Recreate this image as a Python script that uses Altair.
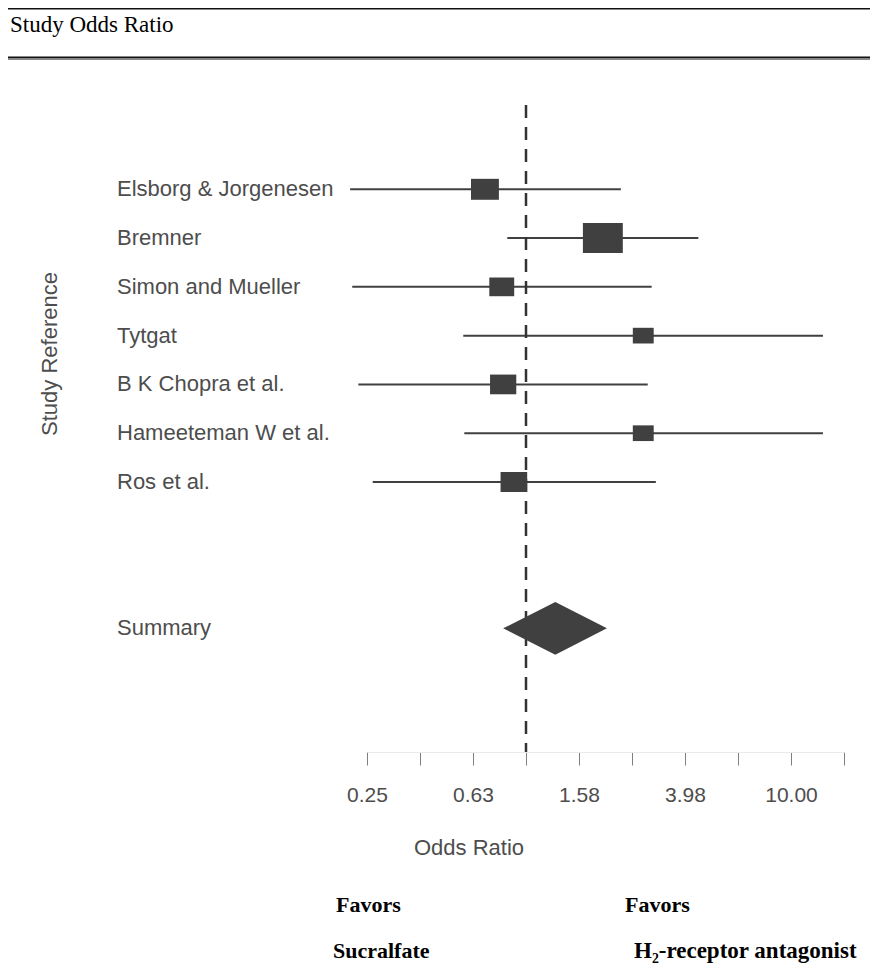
import altair as alt
import pandas as pd

# ---------------- data ----------------
STUDIES = [
    "Elsborg & Jorgenesen",
    "Bremner",
    "Simon and Mueller",
    "Tytgat",
    "B K Chopra et al.",
    "Hameeteman W et al.",
    "Ros et al.",
]
ODDS = [0.70, 1.95, 0.81, 2.77, 0.82, 2.77, 0.90]
LOWER = [0.217, 0.85, 0.221, 0.58, 0.233, 0.585, 0.264]
UPPER = [2.28, 4.47, 2.98, 13.2, 2.88, 13.2, 3.09]
WEIGHT = [14.8, 30.3, 11.8, 8.3, 13.1, 8.3, 13.5]
ROWS = [1, 2, 3, 4, 5, 6, 7]

SUMMARY_LABEL = "Summary"
SUMMARY_ODDS = 1.29
SUMMARY_LOWER = 0.82
SUMMARY_UPPER = 2.02
SUMMARY_ROW = 10

NULL_ODDS = 1.0
TICK_VALUES = [0.2512, 0.3981, 0.6310, 1.0, 1.5849, 2.5119, 3.9811, 6.3096, 10.0, 15.849]
TICK_LABELS = [0.25, 0.63, 1.58, 3.98, 10.0]

HEADER = "Study Odds Ratio"
X_TITLE = "Odds Ratio"
Y_TITLE = "Study Reference"
FAVORS_LEFT = ["Favors", "Sucralfate"]
FAVORS_RIGHT = ["Favors", "H\u2082-receptor antagonist"]

# ---------------- layout / style ----------------
W, H = 477, 647
PAD = {"left": 359, "top": 97, "right": 26, "bottom": 218}
DIAMOND_HALF = 0.54
INK = "#404040"
GREY_TXT = "#4d4d4d"
SANS = "Liberation Sans"
SERIF = "Liberation Serif"

studies = pd.DataFrame(
    {"study": STUDIES, "odds": ODDS, "lower": LOWER, "upper": UPPER,
     "weight": WEIGHT, "row": ROWS}
)
labels = pd.DataFrame({"label": STUDIES + [SUMMARY_LABEL], "row": ROWS + [SUMMARY_ROW]})
diamond = pd.DataFrame(
    {
        "x": [SUMMARY_LOWER, SUMMARY_ODDS, SUMMARY_UPPER],
        "y": [SUMMARY_ROW, SUMMARY_ROW - DIAMOND_HALF, SUMMARY_ROW],
        "y2": [SUMMARY_ROW, SUMMARY_ROW + DIAMOND_HALF, SUMMARY_ROW],
    }
)
one = pd.DataFrame({"a": [0]})

xscale = alt.Scale(type="log", domain=[TICK_VALUES[0], TICK_VALUES[-1]], nice=False)
yscale = alt.Scale(domain=[-0.728, 12.535], reverse=True, nice=False, zero=False)

label_expr = (
    f"indexof({TICK_LABELS}, round(datum.value*100)/100) >= 0 "
    "? format(datum.value, '.2f') : ''"
)
X_AXIS = alt.Axis(
    values=TICK_VALUES, labelExpr=label_expr, title=None, grid=False,
    labelOverlap=False, labelFlush=False,
)

ci = alt.Chart(studies).mark_rule(color=INK, strokeWidth=2).encode(
    x=alt.X("lower:Q", scale=xscale, axis=X_AXIS),
    x2="upper:Q",
    y=alt.Y("row:Q", scale=yscale, axis=None),
)

null_line = alt.Chart(one).mark_rule(
    color="#333333", strokeWidth=2.5, strokeDash=[13, 9]
).encode(x=alt.datum(NULL_ODDS, scale=xscale, axis=X_AXIS))

boxes = alt.Chart(studies).mark_point(
    shape="M-1.33,-1H1.33V1H-1.33Z", filled=True, color=INK, opacity=1, strokeWidth=0
).encode(
    x=alt.X("odds:Q", scale=xscale, axis=X_AXIS),
    y=alt.Y("row:Q", scale=yscale, axis=None),
    size=alt.Size("weight:Q", scale=alt.Scale(domain=[0, 100], range=[0, 2970]), legend=None),
)

summary = alt.Chart(diamond).mark_area(color=INK, opacity=1, orient="vertical").encode(
    x=alt.X("x:Q", scale=xscale, axis=X_AXIS),
    y=alt.Y("y:Q", scale=yscale, axis=None),
    y2="y2:Q",
)

study_labels = alt.Chart(labels).mark_text(
    align="left", baseline="middle", font=SANS, fontSize=22, color=GREY_TXT
).encode(
    x=alt.value(-250),
    y=alt.Y("row:Q", scale=yscale, axis=None),
    text="label:N",
)

def txt(s, x, y, **kw):
    return alt.Chart(one).mark_text(**kw).encode(
        x=alt.value(x), y=alt.value(y), text=alt.value(s)
    )

y_title = txt(Y_TITLE, -317, 249, angle=270, align="center", baseline="middle",
              font=SANS, fontSize=22, color=GREY_TXT)
x_title = txt(X_TITLE, 102, 743, align="center", baseline="middle",
              font=SANS, fontSize=22, color=GREY_TXT)
header = txt(HEADER, -357, -80, align="left", baseline="middle",
             font=SERIF, fontSize=23, color="black")
fav_kw = dict(align="left", baseline="middle", font=SERIF, fontSize=22,
              fontWeight="bold", color="black")
fav1 = txt(FAVORS_LEFT[0], -31, 800, **fav_kw)
fav2 = txt(FAVORS_LEFT[1], -34, 846, **fav_kw)
fav3 = txt(FAVORS_RIGHT[0], 258, 800, **fav_kw)
fav4 = txt(FAVORS_RIGHT[1], 267, 846, fontSize=23,
           **{k: v for k, v in fav_kw.items() if k != "fontSize"})

def hline(y, width, color):
    return alt.Chart(one).mark_rule(color=color, strokeWidth=width).encode(
        x=alt.value(-359), x2=alt.value(W + PAD["right"]), y=alt.value(y)
    )

top_rule = hline(-96.5, 2, "#111111")
mid_rule = hline(-47.5, 2, "#111111")
mid_rule2 = hline(-45.5, 1, "#888888")

chart = alt.layer(
    top_rule, mid_rule2, mid_rule, header,
    ci, null_line, boxes, summary,
    study_labels, y_title, x_title,
    fav1, fav2, fav3, fav4,
).properties(
    width=W, height=H,
    autosize=alt.AutoSizeParams(type="none"),
    padding=PAD,
).configure_view(stroke=None).configure_axisX(
    domainColor="#ebebeb", domainWidth=1,
    tickColor="#7f7f7f", tickSize=13, tickWidth=1,
    labelFont=SANS, labelFontSize=21, labelColor=GREY_TXT, labelPadding=19,
)

chart.save("out.html", embed_options={"renderer": "svg", "actions": False})
